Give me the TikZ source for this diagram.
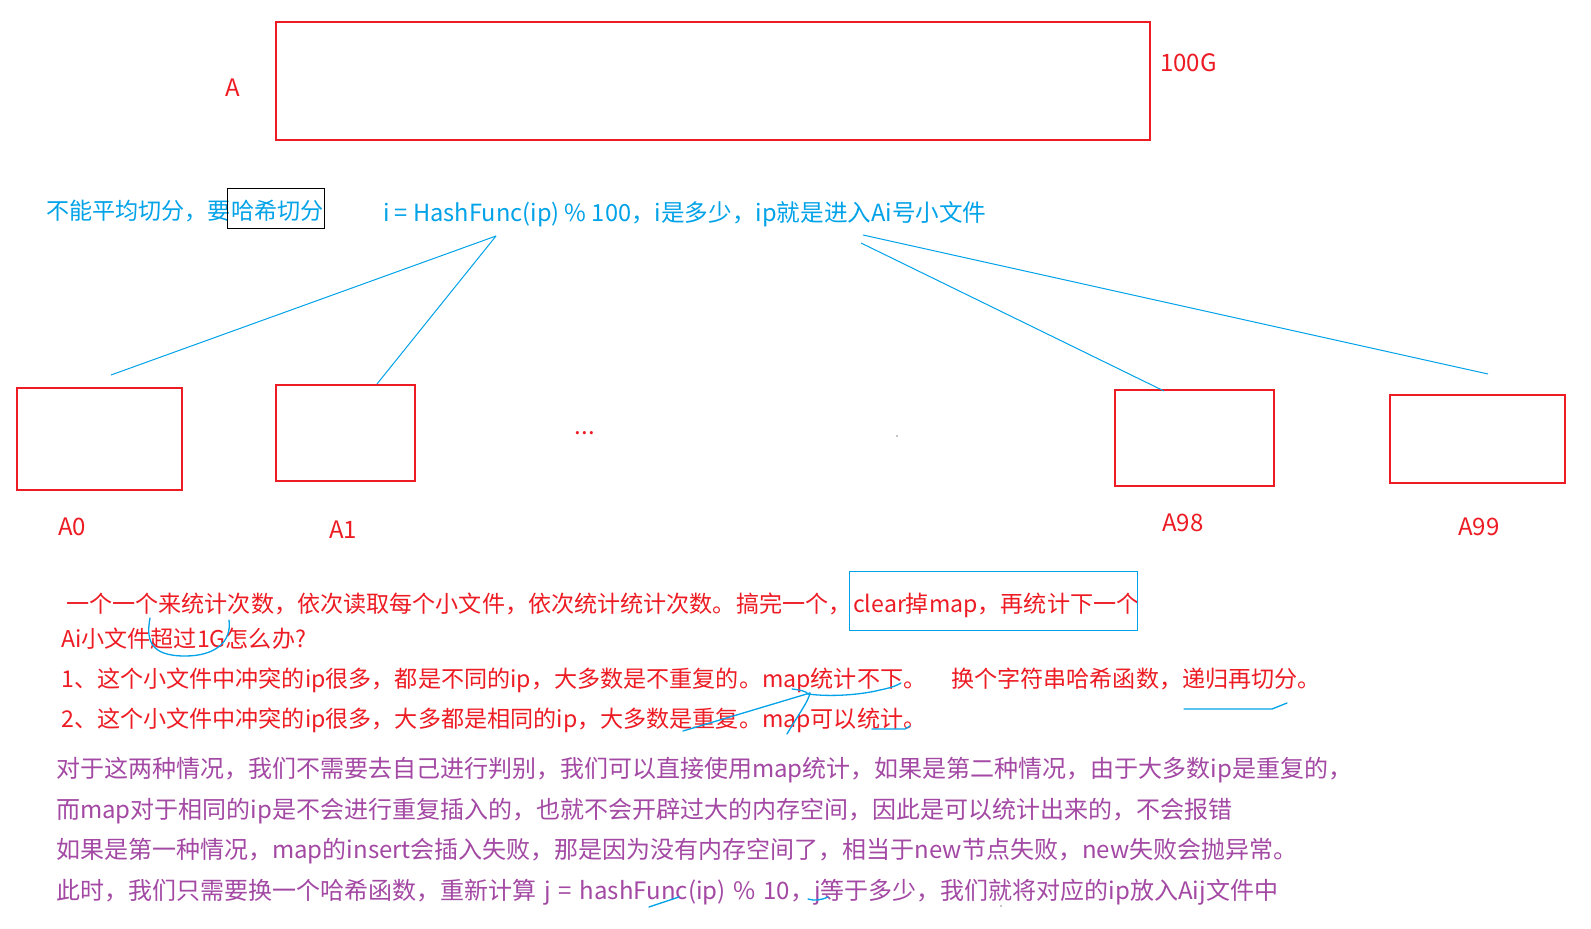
\documentclass[tikz,border=0pt]{standalone}
\usepackage{fontspec}
\setmainfont{Noto Sans CJK SC}
\definecolor{myred}{RGB}{237,28,36}
\definecolor{myblue}{RGB}{0,162,232}
\definecolor{mypurple}{RGB}{163,73,164}
\tikzset{
  redbox/.style={draw=myred, line width=1.5pt, inner sep=0pt},
  txt/.style={inner sep=0pt, anchor=base west, font=\fontsize{24}{28}\selectfont},
  redtxt/.style={inner sep=0pt, anchor=base west, font=\fontsize{23.1}{28}\selectfont, text=myred},
  bluetxt/.style={inner sep=0pt, anchor=base west, text=myblue},
  purtxt/.style={inner sep=0pt, anchor=base west, font=\fontsize{24}{28}\selectfont, text=mypurple},
  lbl/.style={inner sep=0pt, anchor=base, font=\fontsize{24}{28}\selectfont, text=myred},
  link/.style={draw=myblue, line width=1pt},
  ink/.style={draw=myblue, line width=1.3pt, line cap=round, line join=round},
}
\newcommand{\wsp}{\hspace{0.33em}}
\begin{document}
\begin{tikzpicture}[x=1pt,y=-1pt]
\useasboundingbox[fill=white] (0,0) rectangle (1591,929);

% big box
\node[redbox, minimum width=874pt, minimum height=118pt] (A) at (713,81) {};
\node[lbl] (Alabel) at (233,96.5) {A};
\node[txt, text=myred] (size) at (1160,71.5) {100G};

% blue texts
\node[bluetxt, font=\fontsize{23.1}{28}\selectfont] (t1) at (46,219) {不能平均切分，要哈希切分};
\draw[black, line width=1pt] (227,188) rectangle (324,228);
\node[bluetxt, font=\fontsize{23.6}{28}\selectfont] (formula) at (383,221) {i = HashFunc(ip) \% 100，i是多少，ip就是进入Ai号小文件};

% small boxes
\node[redbox, minimum width=165pt, minimum height=102pt] (A0) at (99.5,439) {};
\node[redbox, minimum width=139pt, minimum height=96pt] (A1) at (345.5,433) {};
\node[redbox, minimum width=159pt, minimum height=96pt] (A98) at (1194.5,438) {};
\node[redbox, minimum width=175pt, minimum height=88pt] (A99) at (1477.5,439) {};
\node[lbl] (l0) at (72,535.5) {A0};
\node[lbl] (l1) at (343,538.5) {A1};
\node[lbl] (l98) at (1183,531.5) {A98};
\node[lbl] (l99) at (1479,535.5) {A99};
\node[lbl] (dots) at (585,434) {...};
\fill[black] (897,436) circle (0.6);
\fill[black] (1001,906) circle (0.6);

% connectors
\coordinate (s1) at (496,236);
\coordinate (s2) at (861,243);
\coordinate (s3) at (863,235);
\coordinate (e0) at (111,375);
\coordinate (e1) at (377,384);
\coordinate (e98) at (1164,391);
\coordinate (e99) at (1488,374);
\draw[link] (s1) -- (e0);
\draw[link] (s1) -- (e1);
\draw[link] (s2) -- (e98);
\draw[link] (s3) -- (e99);

% red text
\node[redtxt] (r1) at (66,612) {一个一个来统计次数，依次读取每个小文件，依次统计统计次数。搞完一个，};
\node[redtxt] (r1b) at (853,612) {clear掉map，再统计下一个};
\draw[myblue, line width=1pt] (849,571) rectangle (1137,630);
\node[redtxt] (r2) at (61,647) {Ai小文件超过1G怎么办?};
\node[redtxt] (r3) at (61,687) {1、这个小文件中冲突的ip很多，都是不同的ip，大多数是不重复的。map统计不下。};
\node[redtxt] (r3b) at (951,687) {换个字符串哈希函数，递归再切分。};
\node[redtxt] (r4) at (61,727) {2、这个小文件中冲突的ip很多，大多都是相同的ip，大多数是重复。map可以统计。};

% purple text
\node[purtxt] (p1) at (56,777) {对于这两种情况，我们不需要去自己进行判别，我们可以直接使用map统计，如果是第二种情况，由于大多数ip是重复的，};
\node[purtxt] (p2) at (56,818) {而map对于相同的ip是不会进行重复插入的，也就不会开辟过大的内存空间，因此是可以统计出来的，不会报错};
\node[purtxt] (p3) at (56,858) {如果是第一种情况，map的insert会插入失败，那是因为没有内存空间了，相当于new节点失败，new失败会抛异常。};
\node[purtxt] (p4) at (56,899) {此时，我们只需要换一个哈希函数，重新计算\wsp j\wsp =\wsp hashFunc(ip)\wsp\%\wsp 10，j等于多少，我们就将对应的ip放入Aij文件中};

% hand-drawn strokes
\draw[ink] (150,618) .. controls (146,640) and (150,656) .. (185,656) .. controls (215,656) and (232,642) .. (229,620);
\draw[ink] (792,689) .. controls (800,690) and (806,691) .. (808,694);
\draw[ink] (808,694) .. controls (830,697) and (860,695) .. (880,690) .. controls (890,688) and (896,686) .. (901,683);
\draw[ink] (683,731) -- (810,693);
\draw[ink] (810,693) .. controls (808,702) and (800,712) .. (787,734);
\draw[ink] (872,729) -- (905,729) -- (910,726);
\draw[ink] (1184,709) -- (1272,709) -- (1287,703);
\draw[ink] (649,907) -- (679,897);
\draw[ink] (808,899) .. controls (814,901) and (822,900) .. (828,897);
\end{tikzpicture}
\end{document}
